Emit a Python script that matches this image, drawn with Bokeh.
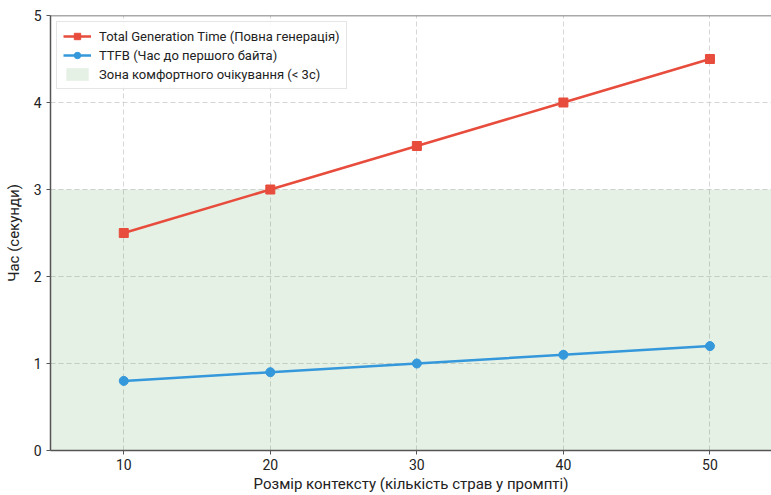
from bokeh.plotting import figure
from bokeh.models import Range1d, FixedTicker, Span, BoxAnnotation, Legend, LegendItem
from bokeh.embed import file_html
from bokeh.resources import INLINE

context_sizes = [10, 20, 30, 40, 50]
total_time = [2.5, 3.0, 3.5, 4.0, 4.5]
ttfb = [0.8, 0.9, 1.0, 1.1, 1.2]
comfort_limit = 3.0
x_ticks = [10, 20, 30, 40, 50]
y_ticks = [0, 1, 2, 3, 4, 5]

FONT = "Roboto"
AX = "#555555"

p = figure(width=771, height=495, output_backend="svg", toolbar_location=None,
           x_range=Range1d(5, 54.2), y_range=Range1d(0, 5),
           min_border_left=50, min_border_right=0, min_border_top=15, min_border_bottom=44)
p.outline_line_color = None
p.background_fill_color = "white"

comfort = BoxAnnotation(bottom=0, top=comfort_limit, fill_color="#2e8b2e", fill_alpha=0.12, line_color=None, level="underlay")
p.add_layout(comfort)

top_spine = Span(location=5, dimension="width", line_color=AX, line_width=1.5)
p.add_layout(top_spine)

for ax in (p.xaxis[0], p.yaxis[0]):
    ax.axis_line_color = AX
    ax.axis_line_width = 1.5
    ax.major_tick_line_color = AX
    ax.major_tick_in = 0
    ax.major_tick_out = 4
    ax.minor_tick_line_color = None
    ax.major_label_text_font = FONT
    ax.major_label_text_font_size = "14px"
    ax.major_label_text_color = "#222222"
    ax.axis_label_text_font = FONT
    ax.axis_label_text_font_size = "15px"
    ax.axis_label_text_font_style = "normal"
    ax.axis_label_text_color = "#222222"

p.xaxis.ticker = FixedTicker(ticks=x_ticks)
p.yaxis.ticker = FixedTicker(ticks=y_ticks)
p.xaxis.axis_label = "Розмір контексту (кількість страв у промпті)"
p.yaxis.axis_label = "Час (секунди)"
p.xaxis.major_label_standoff = 4
p.xaxis.axis_label_standoff = 2
p.yaxis.axis_label_standoff = 8

p.grid.grid_line_color = "#cccccc"
p.grid.grid_line_dash = "5 3"
p.grid.grid_line_alpha = 0.8

RED = "#e74c3c"
BLUE = "#3498db"
r1 = p.line(context_sizes, total_time, line_color=RED, line_width=2.5)
r1m = p.scatter(context_sizes, total_time, marker="square", size=9, fill_color=RED, line_color=RED)
r2 = p.line(context_sizes, ttfb, line_color=BLUE, line_width=2.5)
r2m = p.scatter(context_sizes, ttfb, marker="circle", size=9, fill_color=BLUE, line_color=BLUE)

r3 = p.quad(left=[0], right=[0], bottom=[0], top=[0], fill_color="#2e8b2e", fill_alpha=0.12, line_color=None)

legend = Legend(items=[
    LegendItem(label="Total Generation Time (Повна генерація)", renderers=[r1, r1m]),
    LegendItem(label="TTFB (Час до першого байта)", renderers=[r2, r2m]),
    LegendItem(label="Зона комфортного очікування (< 3с)", renderers=[r3]),
], location="top_left")
legend.label_text_font = FONT
legend.label_text_font_size = "13px"
legend.label_text_color = "#222222"
legend.border_line_color = "#cccccc"
legend.border_line_width = 1
legend.background_fill_alpha = 0.9
legend.spacing = 3
legend.padding = 6
legend.margin = 6
legend.glyph_width = 28
legend.glyph_height = 16
legend.label_standoff = 8
p.add_layout(legend)

open("out.html", "w").write(file_html(p, INLINE))
